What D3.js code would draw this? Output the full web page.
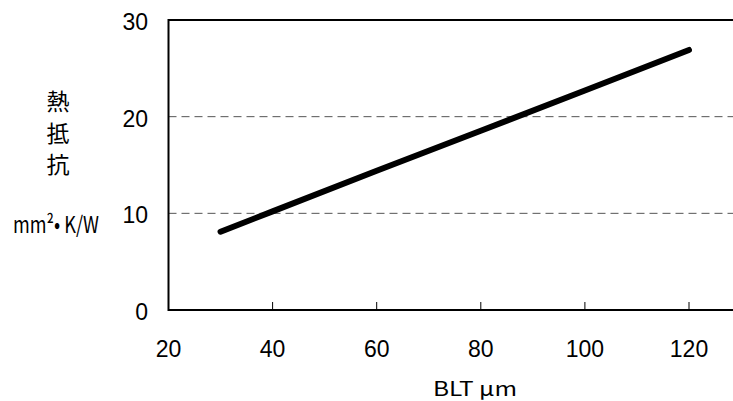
<!DOCTYPE html>
<html><head><meta charset="utf-8">
<script src="https://cdn.jsdelivr.net/npm/d3@7"></script>
<style>body{margin:0;background:#fff}svg{display:block}</style>
</head><body>
<svg id="c" width="733" height="401"></svg>
<script>
const bltValues = [30, 40, 60, 80, 100, 120];
const resistanceValues = [8.1, 10.2, 14.4, 18.55, 22.7, 26.9];
const xTicks = [20, 40, 60, 80, 100, 120];
const yTicks = [0, 10, 20, 30];
const yLabelChars = ["熱", "抵", "抗"];
const yUnit = "mm²• K/W";
const xLabel = "BLT  μm";

(function () {
const svg = d3.select("#c");
const x = d3.scaleLinear().domain([20, 120]).range([168.5, 689]);
const y = d3.scaleLinear().domain([0, 30]).range([310, 20]);
const pL = 168.5, pR = 733, pT = 20, pB = 310;
const font = "'Liberation Sans', Arial, sans-serif";

svg.append("g").selectAll("line").data([10, 20]).join("line")
  .attr("x1", pL).attr("x2", pR)
  .attr("y1", d => y(d)).attr("y2", d => y(d))
  .attr("stroke", "#555").attr("stroke-width", 1)
  .attr("stroke-dasharray", "8,5");

svg.append("path")
  .attr("d", `M${pR},${pT}H${pL}V${pB}H${pR}`)
  .attr("fill", "none").attr("stroke", "#000").attr("stroke-width", 2);

svg.append("g").selectAll("line").data(xTicks.filter(d => d > 20)).join("line")
  .attr("x1", d => x(d)).attr("x2", d => x(d))
  .attr("y1", pB).attr("y2", pB - 8)
  .attr("stroke", "#000").attr("stroke-width", 1);

svg.append("g").selectAll("text").data(xTicks).join("text")
  .attr("x", d => x(d)).attr("y", 349)
  .attr("text-anchor", "middle").attr("dominant-baseline", "central")
  .attr("font-family", font).attr("font-size", 23).text(d => d);

svg.append("g").selectAll("text").data(yTicks).join("text")
  .attr("x", 148).attr("y", d => y(d) + 2)
  .attr("text-anchor", "end").attr("dominant-baseline", "central")
  .attr("font-family", font).attr("font-size", 23).text(d => d);

svg.append("g").selectAll("text").data(yLabelChars).join("text")
  .attr("x", 58).attr("y", (d, i) => 100 + i * 31.5)
  .attr("text-anchor", "middle").attr("dominant-baseline", "central")
  .attr("font-family", "'Noto Sans CJK JP', sans-serif").attr("font-size", 23).text(d => d);

svg.append("text")
  .attr("x", 13).attr("y", 223)
  .attr("dominant-baseline", "central")
  .attr("textLength", 86).attr("lengthAdjust", "spacingAndGlyphs")
  .attr("font-family", "'Noto Sans CJK JP', sans-serif").attr("font-size", 23).text(yUnit);

svg.append("text")
  .attr("x", 475).attr("y", 387)
  .attr("text-anchor", "middle").attr("dominant-baseline", "central")
  .attr("textLength", 84).attr("lengthAdjust", "spacingAndGlyphs")
  .attr("font-family", "'Noto Sans CJK JP', sans-serif").attr("font-size", 20).text(xLabel);

const line = d3.line().x((d, i) => x(bltValues[i])).y(d => y(d));
svg.append("path").datum(resistanceValues)
  .attr("d", line)
  .attr("fill", "none").attr("stroke", "#000").attr("stroke-width", 6)
  .attr("stroke-linecap", "round").attr("stroke-linejoin", "round");
})();
</script>
</body></html>
